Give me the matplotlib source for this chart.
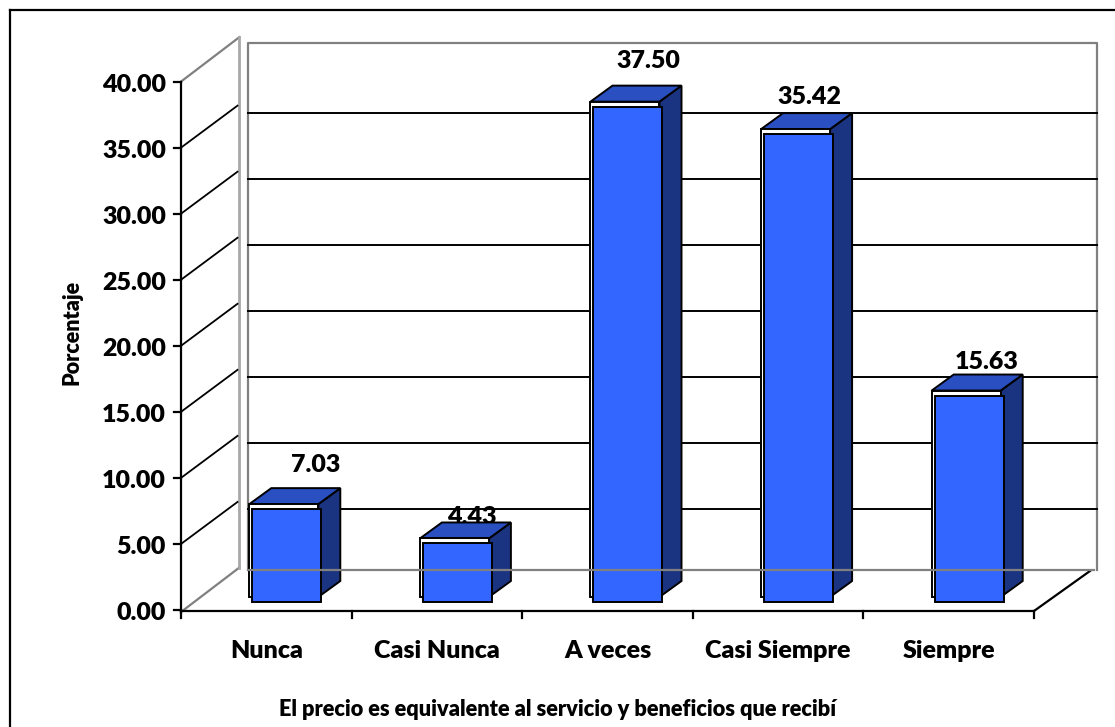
import matplotlib
matplotlib.use("Agg")
import matplotlib.pyplot as plt
from matplotlib.patches import Polygon, Rectangle

# ---- data -------------------------------------------------------------
categories = ["Nunca", "Casi Nunca", "A veces", "Casi Siempre", "Siempre"]
percentages = [7.03, 4.43, 37.50, 35.42, 15.63]
y_ticks = [0, 5, 10, 15, 20, 25, 30, 35, 40]
x_title = "El precio es equivalente al servicio y beneficios que recibí"
y_title = "Porcentaje"

# label placement relative to each bar (pixels: right, up)
label_shift_px = [(29, 37), (14, 19), (20, 39), (11, 30), (17, 27)]

# ---- styling ----------------------------------------------------------
plt.rcParams["font.family"] = ["Lato", "DejaVu Sans"]
WEIGHT = "heavy"
FS = 18
FRONT = "#3366FF"
TOP = "#2A4FC1"
SIDE = "#1B3482"
WALL = "#808080"
WALL_LIGHT = "#A8A8A8"

W, H = 1115, 727
SLOT = 170.6      # pixels per category slot
UNIT = 13.21      # pixels per percentage point
X0_PX, Y0_PX = 181, 610   # front value axis / front floor in pixels

fig = plt.figure(figsize=(W / 100, H / 100), dpi=100)
ax = fig.add_axes([0, 0, 1, 1])
ax.set_xlim(-X0_PX / SLOT, (W - X0_PX) / SLOT)
ax.set_ylim(-(H - Y0_PX) / UNIT, Y0_PX / UNIT)
ax.axis("off")


def hx(p):
    """horizontal pixel distance -> data units"""
    return p / SLOT


def vy(p):
    """vertical pixel distance (upwards) -> data units"""
    return p / UNIT


def xa(px_abs):
    return (px_abs - X0_PX) / SLOT


def ya(py_abs):
    return (Y0_PX - py_abs) / UNIT


LW = 1.4

# outer chart frame
ax.plot([xa(10), xa(10)], [ya(10), ya(H + 5)], color="black", lw=1.6, zorder=1,
        solid_capstyle="projecting")
ax.plot([xa(10), xa(W + 5)], [ya(10), ya(10)], color="black", lw=1.6, zorder=1,
        solid_capstyle="projecting")

# back wall
bw_l, bw_r, bw_t, bw_b = xa(247.7), xa(1097), ya(43), ya(569.5)
ax.plot([bw_l, bw_l, bw_r, bw_r], [bw_b, bw_t, bw_t, bw_b], color=WALL, lw=1.6, zorder=1)
# back gridlines
for v in y_ticks[1:-1]:
    yy = v + vy(35)
    ax.plot([bw_l, bw_r], [yy, yy], color="black", lw=1.4, zorder=1)

# side wall
side_dx, side_dy = hx(58.3), vy(44.4)
ax.plot([0, side_dx], [40, 40 + side_dy], color=WALL, lw=1.6, zorder=1)
ax.plot([0, side_dx], [ya(612), ya(612) + side_dy], color=WALL, lw=1.6, zorder=1)
ax.plot([side_dx, side_dx], [40 + side_dy, ya(612) + side_dy], color=WALL_LIGHT,
        lw=2.0, zorder=1)
for v in y_ticks[1:-1]:
    ax.plot([0, hx(56.5)], [v, v + vy(42)], color="black", lw=1.3, zorder=1)

# value axis, ticks and labels
ax.plot([0, 0], [ya(612), 40], color="black", lw=1.6, zorder=4)
for v in y_ticks:
    ax.plot([hx(-7), 0], [v, v], color="black", lw=1.6, zorder=4)
    ax.text(hx(-15), v - vy(3), f"{v:.2f}", ha="right", va="center",
            fontsize=FS, fontweight=WEIGHT, zorder=4)

# floor front edge, right edge and category ticks
n = len(categories)
ax.plot([0, n], [ya(611), ya(611)], color="black", lw=1.6, zorder=4)
ax.plot([n, n + hx(56)], [ya(611), ya(611) + vy(40)], color="black", lw=1.6, zorder=4)
for i in range(n + 1):
    ax.plot([i, i], [ya(611), ya(618)], color="black", lw=1.6, zorder=4)

# bars
bar_left = hx(71.3)
bar_w = hx(69)
base = vy(8)
dx, dy = hx(22), vy(16)
sx, sy = hx(-3), vy(5)
for i, (cat, v) in enumerate(zip(categories, percentages)):
    x0 = i + bar_left
    x1 = x0 + bar_w
    top = base + v
    z = 5 + i * 0.1
    side = Polygon([(x1 + sx, base + sy), (x1 + sx + dx, base + sy + dy),
                    (x1 + sx + dx, top + sy + dy), (x1 + sx, top + sy)],
                   closed=True, facecolor=SIDE, edgecolor="black", lw=LW, zorder=z)
    cap = Polygon([(x0 + sx, top + sy), (x0 + sx + dx, top + sy + dy),
                   (x1 + sx + dx, top + sy + dy), (x1 + sx, top + sy)],
                  closed=True, facecolor=TOP, edgecolor="black", lw=LW, zorder=z)
    gap = Rectangle((x0 + sx, base + sy), bar_w, v, facecolor="white",
                    edgecolor="black", lw=LW, zorder=z + 0.01)
    face = Rectangle((x0, base), bar_w, v, facecolor=FRONT, edgecolor="black",
                     lw=LW, zorder=z + 0.02)
    for p in (side, cap, gap, face):
        ax.add_patch(p)
    ox, oy = label_shift_px[i]
    ax.annotate(f"{v:.2f}", xy=(x0 + bar_w / 2, top), xytext=(ox * 0.72, oy * 0.72),
                textcoords="offset points", ha="center", va="baseline",
                fontsize=FS, fontweight=WEIGHT, zorder=3)
    ax.text(i + 0.5, ya(658), cat, ha="center", va="baseline",
            fontsize=FS, fontweight=WEIGHT, zorder=4)

# floor back edge (drawn across the bars)
ax.plot([bw_l, xa(1094)], [bw_b, bw_b], color=WALL, lw=1.6, zorder=8)

# axis titles
ax.text(xa(558), ya(716), x_title, ha="center", va="baseline",
        fontsize=15.7, fontweight=WEIGHT, zorder=4)
ax.text(xa(72.5), ya(332), y_title, ha="center", va="center", rotation=90,
        fontsize=15.5, fontweight=WEIGHT, zorder=4)

fig.savefig("out.png", dpi=100)
